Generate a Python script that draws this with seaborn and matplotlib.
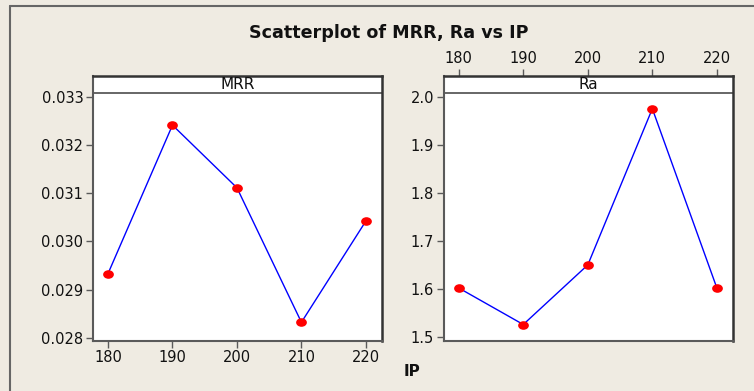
import matplotlib
matplotlib.use("Agg")
import matplotlib.pyplot as plt
from matplotlib.path import Path
from matplotlib.transforms import Affine2D
import seaborn as sns
import pandas as pd

ip = [180, 190, 200, 210, 220]
mrr = [0.02933, 0.03241, 0.03111, 0.02832, 0.03042]
ra = [1.602, 1.526, 1.650, 1.975, 1.602]
x_ticks = [180, 190, 200, 210, 220]
mrr_ticks = [0.028, 0.029, 0.030, 0.031, 0.032, 0.033]
ra_ticks = [1.5, 1.6, 1.7, 1.8, 1.9, 2.0]
title = "Scatterplot of MRR, Ra vs IP"

sns.set_theme(style="white")
plt.rcParams['font.family'] = ['DejaVu Sans']

BG = "#EFEBE2"
SP = "#5A5A5A"
SP_DARK = "#333333"
W, H = 754, 391
fig = plt.figure(figsize=(W / 100, H / 100), dpi=100, facecolor=BG)

def px_axes(x0, y0, x1, y1):
    return fig.add_axes([x0 / W, (H - y1) / H, (x1 - x0) / W, (y1 - y0) / H])

# outer frame lines (left and top)
fig.add_artist(plt.Line2D([10 / W, 10 / W], [0, (H - 6) / H], color="#666666", lw=1.5,
                          transform=fig.transFigure))
fig.add_artist(plt.Line2D([10 / W, 1], [(H - 6) / H, (H - 6) / H], color="#666666", lw=1.5,
                          transform=fig.transFigure))

df = pd.DataFrame({"IP": ip, "MRR": mrr, "Ra": ra})

axL = px_axes(93, 76, 382, 340.7)
axR = px_axes(443.7, 76, 733, 340.7)

strip_frac = (340.7 - 92.7) / 264.7
ellipse = Path.unit_circle().transformed(Affine2D().scale(1.0, 0.8))

def style(ax, label):
    ax.set_facecolor("white")
    for side, s in ax.spines.items():
        if side in ("top", "right"):
            s.set_color(SP_DARK)
            s.set_linewidth(1.8)
        else:
            s.set_color(SP)
            s.set_linewidth(1.5)
    ax.plot([0, 1], [strip_frac, strip_frac], transform=ax.transAxes, color=SP, lw=1.3,
            clip_on=False)
    ax.text(0.5, (strip_frac + 1) / 2, label, transform=ax.transAxes, ha="center",
            va="center", fontsize=11, color="#111111")
    ax.tick_params(axis="both", direction="out", length=5, width=1, color=SP,
                   labelsize=10.5, labelcolor="#111111", pad=2)
    ax.set_xlim(177.67, 222.5)
    ax.set_xlabel("")
    ax.set_ylabel("")

for ax, col in [(axL, "MRR"), (axR, "Ra")]:
    sns.lineplot(data=df, x="IP", y=col, ax=ax, color="#0000FF", lw=1.0, zorder=2)
    sns.scatterplot(data=df, x="IP", y=col, ax=ax, color="#FF0000", s=60, marker=ellipse,
                    edgecolor="#FF0000", linewidth=0, zorder=3)

style(axL, "MRR")
style(axR, "Ra")

# left panel
axL.set_ylim(0.027938, 0.033429)
axL.set_yticks(mrr_ticks)
axL.set_yticklabels([f"{v:.3f}" for v in mrr_ticks])
axL.set_xticks(x_ticks)
axL.set_xticklabels([str(v) for v in x_ticks])
axL.tick_params(axis="x", bottom=True, top=False, labelbottom=True)
axL.tick_params(axis="y", left=True)

# right panel
axR.set_ylim(1.4923, 2.0431)
axR.set_yticks(ra_ticks)
axR.set_yticklabels([f"{v:.1f}" for v in ra_ticks])
axR.set_xticks(x_ticks)
axR.set_xticklabels([str(v) for v in x_ticks])
axR.tick_params(axis="x", bottom=False, top=True, labelbottom=False, labeltop=True)
axR.tick_params(axis="y", left=True)

fig.text(389 / W, (H - 33) / H, title, ha="center", va="center", fontsize=12.6,
         fontweight="bold", color="#111111")
fig.text(412 / W, (H - 372) / H, "IP", ha="center", va="center", fontsize=11,
         fontweight="bold", color="#111111")

fig.savefig("out.png", dpi=100, facecolor=BG)
